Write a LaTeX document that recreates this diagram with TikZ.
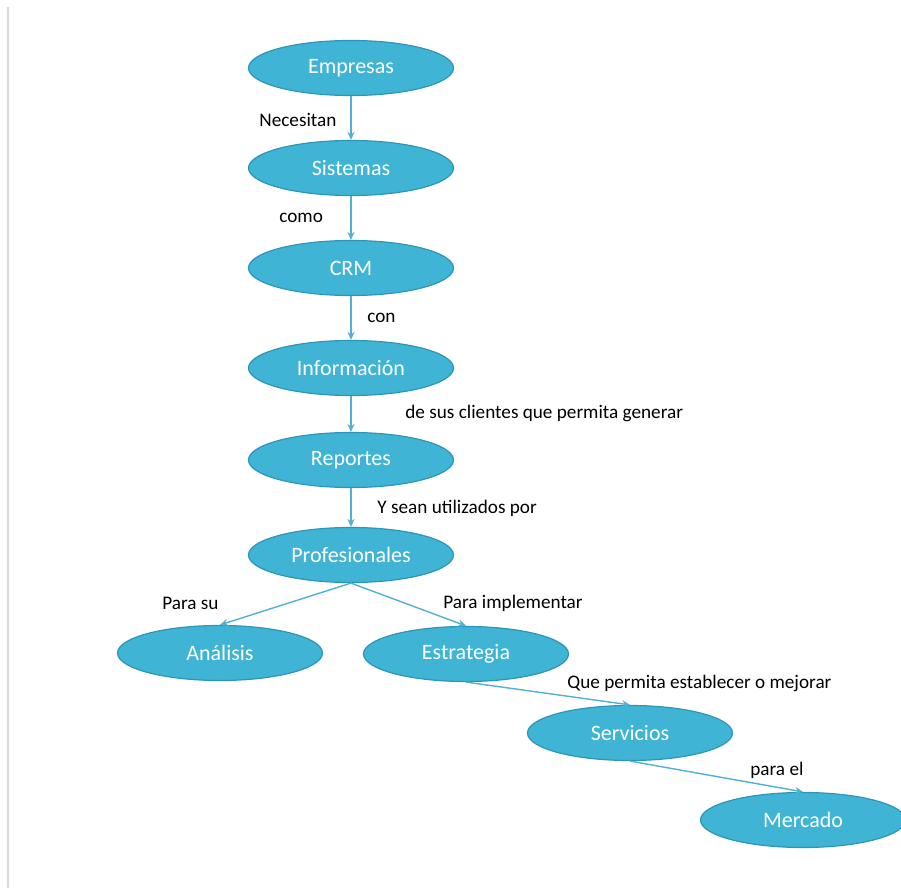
\documentclass[tikz,border=0pt]{standalone}
\usepackage{fontspec}
\setmainfont{Carlito}
\usetikzlibrary{shapes.geometric,arrows.meta}
\definecolor{bubble}{RGB}{64,180,212}
\definecolor{bubbleedge}{RGB}{44,150,186}
\definecolor{linkcol}{RGB}{82,176,212}

\begin{document}
\begin{tikzpicture}[x=0.5pt, y=-0.5pt,
	concept/.style={ellipse, fill=bubble, draw=bubbleedge, line width=0.6pt,
		minimum width=102.5pt, minimum height=27.5pt, inner sep=0pt,
		text=white, font=\fontsize{11}{13}\selectfont},
	link/.style={draw=linkcol, line width=0.7pt, -{Stealth[length=4pt,width=3.6pt]}},
	phrase/.style={anchor=west, inner sep=0pt, font=\fontsize{9.6}{11}\selectfont}]

	\useasboundingbox (0,0) rectangle (901,888);

	% page edge on the left
	\draw[gray!30, line width=0.6pt] (8,7) -- (8,888);

	% main column
	\node[concept] (empresas)      at (351,68)  {Empresas};
	\node[concept] (sistemas)      at (351,168) {Sistemas};
	\node[concept] (crm)           at (351,268) {CRM};
	\node[concept] (informacion)   at (351,368) {Información};
	\node[concept] (reportes)      at (351,460) {Reportes};
	\node[concept] (profesionales) at (351,555) {Profesionales};

	% branches
	\node[concept] (analisis)   at (220,653) {Análisis};
	\node[concept] (estrategia) at (466,654) {Estrategia};
	\node[concept] (servicios)  at (630,733) {Servicios};
	\node[concept] (mercado)    at (803,820) {Mercado};

	% connectors
	\draw[link] (empresas) -- (sistemas);
	\draw[link] (sistemas) -- (crm);
	\draw[link] (crm) -- (informacion);
	\draw[link] (informacion) -- (reportes);
	\draw[link] (reportes) -- (profesionales);
	\draw[link] (profesionales.south) -- (analisis.north);
	\draw[link] (profesionales.south) -- (estrategia.north);
	\draw[link] (estrategia.south) -- (servicios.north);
	\draw[link] (servicios.south) -- (mercado.north);

	% linking phrases
	\node[phrase] (necesitan)  at (259,120) {Necesitan};
	\node[phrase] (como)       at (279,218) {como};
	\node[phrase] (con)        at (367,318) {con};
	\node[phrase] (desus)      at (405,413) {de sus clientes que permita generar};
	\node[phrase] (ysean)      at (377,508) {Y sean utilizados por};
	\node[phrase] (parasu)     at (162,603) {Para su};
	\node[phrase] (paraimpl)   at (443,603) {Para implementar};
	\node[phrase] (quepermita) at (567,683) {Que permita establecer o mejorar};
	\node[phrase] (parael)     at (750,770) {para el};
\end{tikzpicture}
\end{document}
